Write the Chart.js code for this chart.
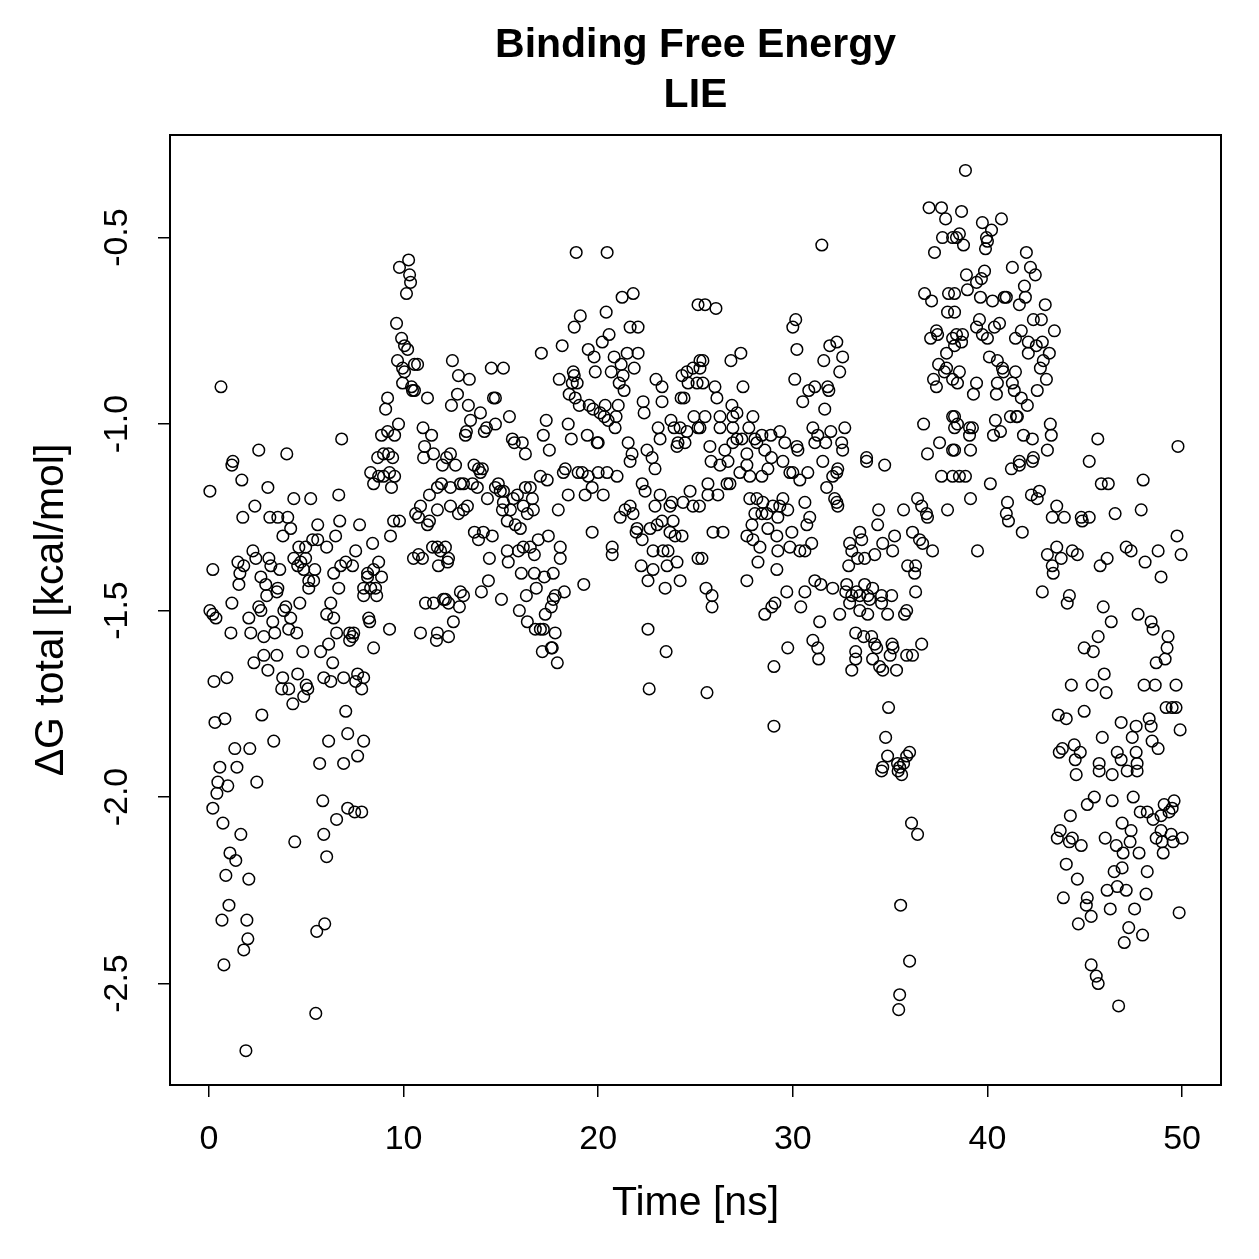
<!DOCTYPE html>
<html><head><meta charset="utf-8">
<script src="https://cdn.jsdelivr.net/npm/chart.js@4/dist/chart.umd.min.js"></script>
<style>html,body{margin:0;padding:0;background:#fff}canvas{display:block}</style>
</head><body>
<canvas id="c" width="1259" height="1259"></canvas>
<script>
const titleLines = ['Binding Free Energy', 'LIE'];
const xLabel = 'Time [ns]';
const yLabel = 'ΔG total [kcal/mol]';
const xTicks = [0, 10, 20, 30, 40, 50];
const yTicks = [-2.5, -2.0, -1.5, -1.0, -0.5];
const yTickLabels = ['-2.5', '-2.0', '-1.5', '-1.0', '-0.5'];

// [time (ns), ΔG (kcal/mol)], split by time window
const seg0to12 = [[0.05,-1.18],[1.69,-1.15],[3.03,-1.17],[4.36,-1.20],[5.23,-1.20],[6.67,-1.19],[2.36,-1.22],[1.74,-1.25],[3.13,-1.25],[3.54,-1.25],[4.05,-1.25],[4.2,-1.28],[3.8,-1.30],[5.59,-1.27],[6.72,-1.26],[7.74,-1.27],[6.51,-1.30],[8.41,-1.32],[9.33,-1.30],[9.49,-1.26],[9.79,-1.26],[5.59,-1.31],[5.33,-1.31],[4.97,-1.33],[4.62,-1.33],[6.05,-1.33],[7.54,-1.34],[2.26,-1.34],[1.49,-1.37],[1.79,-1.38],[1.59,-1.40],[2.41,-1.36],[3.08,-1.36],[3.18,-1.38],[3.64,-1.39],[0.2,-1.39],
[4.36,-1.36],[4.72,-1.37],[4.97,-1.36],[4.56,-1.38],[4.87,-1.39],[5.44,-1.39],[5.13,-1.42],[5.38,-1.42],[5.13,-1.44],[1.54,-1.43],[2.67,-1.41],[2.92,-1.43],[2.97,-1.46],[3.54,-1.44],[3.49,-1.45],
[6.41,-1.40],[6.77,-1.38],[7.03,-1.37],[7.38,-1.38],[6.67,-1.44],
[8.72,-1.37],[8.15,-1.40],[8.46,-1.39],[8.87,-1.41],[8.15,-1.41],[7.95,-1.44],[8.31,-1.44],[8.56,-1.44],[7.95,-1.46],[8.62,-1.46],
[1.18,-1.48],[0.05,-1.50],[0.2,-1.51],[0.36,-1.52],[2.56,-1.49],[2.67,-1.50],[3.95,-1.49],[3.85,-1.50],[4.2,-1.52],[4.67,-1.48],[2.05,-1.52],[3.28,-1.53],
[6.26,-1.48],[6.05,-1.51],[6.41,-1.52],[8.21,-1.52],[8.26,-1.53],
[1.13,-1.56],[2.15,-1.56],[2.82,-1.57],[3.38,-1.56],[4.1,-1.55],[4.51,-1.56],[6.56,-1.56],[6.15,-1.59],[7.23,-1.56],[7.38,-1.57],[7.44,-1.56],[7.23,-1.58],[9.28,-1.55],[8.46,-1.60],
[4.82,-1.61],[5.74,-1.61],[6.36,-1.64],[2.82,-1.62],[3.49,-1.62],[2.31,-1.64],[3.03,-1.66],
[0.26,-1.69],[0.92,-1.68],[3.79,-1.68],[3.74,-1.71],[4.1,-1.71],[4.31,-1.75],[4.56,-1.67],[5.0,-1.70],[5.08,-1.71],[4.87,-1.73],[5.9,-1.68],[6.26,-1.69],[6.92,-1.68],[7.64,-1.67],[7.95,-1.68],[7.54,-1.69],[7.85,-1.71],
[2.72,-1.78],[0.31,-1.80],[0.82,-1.79],[7.03,-1.77],[7.13,-1.83],[6.15,-1.85],[7.95,-1.85],[3.33,-1.85],[1.33,-1.87],[2.1,-1.87],[0.56,-1.92],[1.44,-1.92],[5.69,-1.91],[6.92,-1.91],[7.64,-1.89],
[2.46,-1.96],[0.46,-1.96],[0.97,-1.97],[0.41,-1.99],[0.2,-2.03],[0.72,-2.07],[1.64,-2.10],[5.85,-2.01],[7.13,-2.03],[7.49,-2.04],[7.85,-2.04],[6.56,-2.06],[4.41,-2.12],[5.9,-2.10],[6.05,-2.16],[1.08,-2.15],[1.38,-2.17],[0.87,-2.21],[2.05,-2.22],[1.03,-2.29],[0.67,-2.33],[1.95,-2.33],[2.0,-2.38],[1.79,-2.41],[5.95,-2.34],[5.54,-2.36],[0.77,-2.45],[5.49,-2.58],[1.9,-2.68],
[10.26,-0.56],[9.79,-0.58],[10.31,-0.60],[10.36,-0.62],[10.15,-0.65],[9.64,-0.73],[9.9,-0.77],[10.05,-0.79],[10.21,-0.80],[9.69,-0.83],[9.95,-0.85],[10.05,-0.86],[10.56,-0.84],[10.72,-0.84],[9.95,-0.89],[10.41,-0.90],[10.46,-0.91],[10.56,-0.91],[11.23,-0.93],[0.62,-0.90],[9.18,-0.93],[9.08,-0.96],[9.74,-1.00],[9.18,-1.02],[8.87,-1.03],[9.54,-1.03],[11.0,-1.01],[11.44,-1.03],[11.08,-1.06],[11.54,-1.08],[6.82,-1.04],[2.56,-1.07],[4.0,-1.08],[1.23,-1.10],[1.18,-1.11],[8.67,-1.09],[8.97,-1.08],[9.23,-1.08],[9.44,-1.09],[11.03,-1.09],[12.21,-1.09],
[12.0,-1.11],[8.31,-1.13],[8.72,-1.14],[8.97,-1.14],[9.28,-1.13],[9.54,-1.14],[8.46,-1.16],[9.38,-1.17],
[11.74,-1.17],[11.95,-1.16],[11.33,-1.19],[10.87,-1.22],[10.62,-1.24],[10.77,-1.25],[11.33,-1.26],[11.23,-1.27],[11.74,-1.23],
[10.51,-1.36],[10.77,-1.35],[10.97,-1.36],[11.49,-1.33],[11.74,-1.33],[11.9,-1.34],[11.79,-1.38],[11.13,-1.48],[11.54,-1.48],[12.05,-1.47],[10.87,-1.56],[11.74,-1.56],[11.69,-1.58]];

const seg12to25 = [[18.87,-0.54],[20.46,-0.54],[21.23,-0.66],[21.8,-0.65],[19.08,-0.71],[20.41,-0.70],[18.77,-0.74],[21.64,-0.74],[22.05,-0.74],[20.56,-0.76],[20.21,-0.78],[18.15,-0.79],[17.08,-0.81],[19.49,-0.80],[19.79,-0.82],[20.82,-0.82],[21.49,-0.81],[22.05,-0.81],[21.18,-0.84],[21.85,-0.85],
[18.72,-0.86],[18.77,-0.87],[18.0,-0.88],[18.67,-0.89],[18.92,-0.89],[18.51,-0.92],[18.82,-0.93],[19.03,-0.95],[19.85,-0.86],[20.67,-0.86],[21.28,-0.87],[21.08,-0.89],[21.33,-0.91],[22.97,-0.88],[23.28,-0.90],[23.28,-0.94],
[12.51,-0.83],[12.82,-0.87],[13.38,-0.88],[14.51,-0.85],[15.13,-0.85],[12.77,-0.92],[12.46,-0.95],[13.33,-0.95],[13.95,-0.97],[14.72,-0.93],[14.62,-0.93],[13.44,-0.99],[13.18,-1.03],[13.23,-1.02],[14.26,-1.01],[14.15,-1.02],[14.72,-1.00],[15.44,-0.98],[17.33,-0.99],[17.18,-1.03],[18.46,-1.00],[18.62,-1.04],[15.59,-1.04],[15.69,-1.05],[16.1,-1.05],[17.49,-1.07],[16.26,-1.08],[19.44,-1.03],[19.95,-1.05],[20.0,-1.05],
[19.54,-0.95],[19.74,-0.96],[20.1,-0.97],[20.36,-0.95],[20.31,-0.98],[20.51,-0.99],[20.92,-0.98],[21.03,-0.95],[20.87,-1.01],[22.31,-0.94],[22.36,-0.97],[21.54,-1.05],[21.74,-1.08],[22.51,-1.07],[22.77,-1.09],
[23.08,-1.01],[23.18,-1.04],[23.74,-0.99],[23.9,-1.01],[24.21,-1.01],[24.56,-1.02],[24.1,-1.05],[24.05,-1.06],[24.46,-1.05],[24.92,-0.98],[25.13,-1.01],[25.13,-0.68],[25.23,-0.83],[24.56,-0.86],[24.31,-0.87],[24.87,-0.85],[24.62,-0.89],[25.08,-0.89],[24.26,-0.93],[24.41,-0.93],[12.41,-1.08],
[12.67,-1.11],[13.62,-1.11],[13.85,-1.12],[14.05,-1.12],[13.95,-1.13],[12.41,-1.17],[12.92,-1.16],[13.08,-1.16],[13.54,-1.16],[13.79,-1.17],[12.41,-1.22],[12.82,-1.24],[13.08,-1.23],[13.28,-1.22],[14.31,-1.20],[14.72,-1.17],[14.97,-1.18],[15.13,-1.18],[14.87,-1.16],[15.13,-1.21],[15.08,-1.23],[15.49,-1.23],[15.64,-1.20],[15.85,-1.19],[16.26,-1.17],[16.51,-1.17],[16.62,-1.20],[16.67,-1.23],[16.36,-1.24],[15.33,-1.26],[15.74,-1.27],[16.0,-1.28],[16.15,-1.22],[13.64,-1.29],[14.1,-1.29],[13.85,-1.31],[14.56,-1.30],[12.15,-1.33],[12.31,-1.36],[12.26,-1.37],[14.41,-1.36],[15.33,-1.34],[15.38,-1.37],[15.9,-1.34],[16.15,-1.33],[16.51,-1.33],[16.72,-1.35],[16.92,-1.31],[17.44,-1.30],[18.05,-1.33],[18.05,-1.36],
[17.03,-1.14],[17.38,-1.15],[17.95,-1.23],[18.21,-1.13],[18.46,-1.19],[18.31,-1.12],[18.97,-1.13],[19.18,-1.13],[19.33,-1.19],[19.49,-1.14],[19.69,-1.17],[20.0,-1.13],[20.26,-1.19],[20.46,-1.13],[20.97,-1.14],[19.69,-1.29],[20.72,-1.33],[20.72,-1.35],[21.64,-1.10],[22.92,-1.12],
[22.26,-1.16],[22.41,-1.18],[23.18,-1.19],[22.92,-1.22],[23.79,-1.21],[23.69,-1.22],[24.36,-1.21],[24.87,-1.22],[24.72,-1.18],
[21.13,-1.25],[21.38,-1.23],[21.64,-1.22],[21.79,-1.24],[22.0,-1.28],[21.95,-1.29],[22.26,-1.31],[22.67,-1.28],[23.03,-1.27],[23.28,-1.26],[23.85,-1.26],[23.69,-1.29],[23.95,-1.30],[24.31,-1.30],[22.82,-1.34],[23.33,-1.34],[23.59,-1.34],[22.21,-1.38],[22.82,-1.39],[23.54,-1.38],[24.05,-1.37],[22.56,-1.42],[23.44,-1.44],[24.21,-1.42],[25.13,-1.36],[22.56,-1.55],[23.49,-1.61],[22.62,-1.71],
[12.15,-1.47],[12.31,-1.48],[12.92,-1.45],[13.08,-1.46],[12.87,-1.49],[12.56,-1.53],[12.31,-1.57],[14.0,-1.45],[14.36,-1.42],[15.03,-1.47],[16.05,-1.40],[16.72,-1.40],[16.82,-1.44],[17.23,-1.41],[17.69,-1.40],[16.31,-1.46],[15.95,-1.50],[16.36,-1.53],[17.79,-1.46],[18.26,-1.45],[17.69,-1.47],[17.59,-1.49],[17.28,-1.51],[16.77,-1.55],[17.03,-1.55],[17.18,-1.55],[17.79,-1.56],[17.13,-1.61],[17.59,-1.60],[17.64,-1.60],[17.9,-1.64],[19.26,-1.43]];

const seg25to38 = [[31.49,-0.52],[37.0,-0.42],[37.64,-0.42],[37.85,-0.45],[37.69,-0.50],[38.21,-0.50],[37.28,-0.54],[25.49,-0.68],[26.05,-0.69],[30.15,-0.72],[30.0,-0.74],[25.38,-0.83],[25.23,-0.85],[27.33,-0.81],[26.82,-0.83],[30.21,-0.80],[30.1,-0.88],[32.26,-0.78],[31.9,-0.79],[31.59,-0.83],[32.56,-0.82],[32.41,-0.86],
[25.38,-0.89],[26.0,-0.90],[26.1,-0.93],[27.44,-0.90],[26.87,-0.95],[27.13,-0.97],[25.49,-0.98],[25.23,-1.01],[26.26,-0.98],[26.26,-1.01],[26.92,-1.01],[26.92,-0.98],[27.95,-0.98],[27.74,-1.01],[27.13,-1.04],[27.38,-1.04],[26.92,-1.05],[28.05,-1.04],[28.41,-1.03],[28.15,-1.05],[28.87,-1.03],[29.33,-1.02],[25.74,-1.06],[26.51,-1.07],[27.64,-1.08],[28.56,-1.07],[29.59,-1.05],[30.21,-1.06],[30.26,-1.07],[25.8,-1.10],[28.9,-1.09],
[30.51,-0.94],[30.82,-0.91],[31.13,-0.90],[31.79,-0.90],[31.85,-0.91],[31.64,-0.96],[31.03,-1.01],[31.28,-1.03],[31.13,-1.05],[31.69,-1.05],[31.95,-1.02],[32.67,-1.01],[32.51,-1.05],[32.56,-1.07],[33.79,-1.09],
[36.77,-0.65],[37.13,-0.67],[38.0,-0.65],[37.95,-0.70],[37.38,-0.75],[37.08,-0.77],[37.44,-0.76],[38.21,-0.77],[37.9,-0.81],[37.49,-0.84],[37.79,-0.86],[37.9,-0.85],[37.23,-0.88],[37.38,-0.90],[38.21,-0.88],[36.72,-1.00],[37.54,-1.05],[36.92,-1.08],[38.21,-0.98],[38.31,-1.01],[38.21,-1.07],
[26.26,-1.11],[26.67,-1.10],[27.28,-1.13],[27.79,-1.14],[27.64,-1.11],[28.41,-1.14],[28.72,-1.12],[29.49,-1.10],[30.0,-1.13],[30.36,-1.15],[30.77,-1.13],[29.85,-1.13],[31.54,-1.10],[31.74,-1.17],[32.05,-1.14],[32.26,-1.13],[32.31,-1.12],[33.79,-1.10],[34.72,-1.11],[37.64,-1.14],[38.21,-1.14],
[25.64,-1.16],[26.62,-1.16],[26.77,-1.16],[25.64,-1.19],[26.15,-1.19],[25.2,-1.22],
[27.79,-1.20],[28.15,-1.20],[28.46,-1.21],[28.05,-1.24],[28.41,-1.24],[28.67,-1.24],[28.97,-1.22],[29.33,-1.22],[29.49,-1.20],[29.74,-1.23],[29.23,-1.25],[27.9,-1.27],[28.72,-1.28],[29.18,-1.30],[27.64,-1.30],[27.95,-1.31],[28.31,-1.33],[29.23,-1.34],[29.85,-1.33],[29.95,-1.29],[30.36,-1.34],[30.62,-1.34],[30.72,-1.27],[30.87,-1.25],[30.62,-1.21],[30.97,-1.32],[32.15,-1.20],[32.26,-1.21],[32.31,-1.22],[25.9,-1.29],[26.41,-1.29],[25.33,-1.36],[28.21,-1.37],[29.18,-1.39],[27.64,-1.42],[25.54,-1.44],[25.85,-1.46],[25.85,-1.49],[29.69,-1.45],[29.08,-1.48],[28.92,-1.49],[28.56,-1.51],[30.62,-1.45],[30.41,-1.49],
[31.13,-1.42],[31.44,-1.43],[32.05,-1.44],[32.77,-1.43],[32.72,-1.45],[33.03,-1.46],[33.28,-1.45],[33.69,-1.43],[33.44,-1.46],[33.85,-1.46],[34.1,-1.44],[34.56,-1.46],[35.08,-1.46],[34.56,-1.48],[33.95,-1.47],[33.44,-1.50],[33.85,-1.51],[32.92,-1.48],[32.41,-1.51],[31.38,-1.53],[34.87,-1.51],[35.74,-1.51],[35.85,-1.50],[36.31,-1.45],
[32.92,-1.32],[33.44,-1.29],[33.54,-1.31],[33.03,-1.34],[33.33,-1.36],[33.69,-1.36],[32.87,-1.38],[34.21,-1.35],[34.62,-1.32],[35.13,-1.34],[35.23,-1.30],[34.41,-1.23],[34.36,-1.27],[35.69,-1.23],[36.41,-1.20],[36.62,-1.22],[36.87,-1.24],[36.92,-1.25],[37.95,-1.23],[36.15,-1.29],[36.51,-1.31],[36.67,-1.32],[37.18,-1.34],[35.9,-1.38],[36.31,-1.38],[36.26,-1.40],
[25.59,-1.72],[29.03,-1.65],[29.74,-1.60],[31.03,-1.58],[31.28,-1.60],[31.33,-1.63],
[33.23,-1.56],[33.64,-1.57],[34.05,-1.57],[34.21,-1.59],[34.31,-1.60],[33.23,-1.61],[33.23,-1.63],[33.03,-1.66],[34.1,-1.63],[34.46,-1.65],[34.62,-1.66],[35.33,-1.66],[35.1,-1.59],[35.15,-1.60],[35.0,-1.62],[35.85,-1.62],[36.15,-1.62],[36.62,-1.59],
[29.03,-1.81],[34.92,-1.76],[34.77,-1.84],[34.87,-1.89],[36.0,-1.88],[35.85,-1.89],[35.38,-1.91],[35.69,-1.91],[34.62,-1.92],[35.49,-1.92],[34.56,-1.93],[35.59,-1.94],[35.41,-1.93],[36.1,-2.07],[36.41,-2.10],[35.54,-2.29],[36.0,-2.44],[35.49,-2.53],[35.44,-2.57]];

const seg38to50 = [[38.87,-0.32],[38.67,-0.43],[39.74,-0.46],[40.72,-0.45],[38.56,-0.49],[38.41,-0.50],[38.77,-0.52],[40.21,-0.48],[39.95,-0.50],[40.0,-0.51],[39.9,-0.53],[42.0,-0.54],[41.28,-0.58],[42.21,-0.58],[42.46,-0.60],[41.9,-0.63],[41.95,-0.66],[41.64,-0.68],[42.97,-0.68],
[38.92,-0.60],[38.97,-0.64],[39.44,-0.62],[39.69,-0.61],[39.85,-0.59],[39.64,-0.66],[40.26,-0.67],[40.87,-0.66],[40.97,-0.66],
[38.31,-0.65],[38.31,-0.70],[39.59,-0.72],[39.44,-0.74],[40.36,-0.74],[40.62,-0.73],[38.41,-0.76],[38.72,-0.76],[38.67,-0.78],[38.31,-0.79],
[39.74,-0.76],[40.0,-0.77],[41.44,-0.77],[41.74,-0.75],[42.1,-0.78],[42.51,-0.79],[42.82,-0.78],[42.1,-0.81],[43.18,-0.81],[42.36,-0.72],[42.77,-0.72],[43.44,-0.75],
[40.1,-0.82],[40.51,-0.83],[40.77,-0.85],[40.82,-0.86],[41.44,-0.86],[40.51,-0.89],[41.28,-0.89],[41.38,-0.91],[42.87,-0.83],[42.72,-0.85],[43.03,-0.88],[42.56,-0.91],[41.74,-0.93],[42.05,-0.95],
[38.56,-0.86],[38.46,-0.89],[39.44,-0.89],[39.28,-0.92],[40.46,-0.92],
[38.31,-0.98],[38.46,-1.00],[39.08,-1.01],[39.23,-1.01],[39.08,-1.03],[38.31,-1.07],[39.13,-1.07],
[40.41,-0.99],[40.31,-1.03],[40.67,-1.02],[41.18,-0.98],[41.49,-0.98],[41.54,-0.98],[43.23,-1.00],[43.28,-1.03],[43.08,-1.07],[41.85,-1.03],[42.31,-1.04],[41.64,-1.10],[42.36,-1.09],[45.67,-1.04],[49.79,-1.06],[45.23,-1.10],
[41.23,-1.12],[41.64,-1.11],[42.31,-1.10],[38.56,-1.14],[38.87,-1.14],[40.15,-1.16],[39.13,-1.20],[41.03,-1.21],[40.97,-1.24],[41.08,-1.26],[41.79,-1.29],[42.26,-1.19],[42.67,-1.18],[42.56,-1.20],
[43.56,-1.22],[43.33,-1.25],[43.95,-1.25],[44.82,-1.25],[44.87,-1.26],[45.23,-1.25],[45.85,-1.16],[46.21,-1.16],[46.56,-1.24],[47.9,-1.23],[48.0,-1.15],
[39.49,-1.34],[43.08,-1.35],[43.56,-1.33],[43.79,-1.36],[43.33,-1.38],[43.38,-1.40],[44.36,-1.34],[44.62,-1.35],[45.79,-1.38],[46.15,-1.36],[47.13,-1.33],[47.38,-1.34],[48.1,-1.37],[48.77,-1.34],[48.92,-1.41],[49.74,-1.30],[49.95,-1.35],
[42.82,-1.45],[44.21,-1.46],[44.1,-1.48],[45.95,-1.49],[46.36,-1.53],[45.69,-1.57],[44.97,-1.60],[45.44,-1.61],[47.74,-1.51],[48.41,-1.53],[48.51,-1.55],[49.28,-1.57],[49.23,-1.60],[49.13,-1.63],[48.67,-1.64],
[44.31,-1.70],[45.38,-1.70],[46.0,-1.67],[46.1,-1.72],[48.05,-1.70],[48.62,-1.70],[49.69,-1.70],
[43.64,-1.78],[44.05,-1.79],[44.97,-1.77],[46.87,-1.80],[47.64,-1.81],[48.31,-1.79],[48.41,-1.81],[47.44,-1.84],[45.9,-1.84],[48.46,-1.85],[48.77,-1.87],[49.18,-1.76],[49.49,-1.76],[49.69,-1.76],[49.9,-1.82],[47.64,-1.88],[46.67,-1.88],[46.87,-1.90],[45.74,-1.91],[47.69,-1.91],[43.69,-1.88],[43.85,-1.87],[44.46,-1.86],[44.77,-1.88],[44.51,-1.90],
[44.56,-1.94],[46.41,-1.94],[47.18,-1.93],[45.74,-1.93],[47.69,-1.93],[45.49,-2.00],[45.13,-2.02],[46.41,-2.01],[47.49,-2.00],[44.26,-2.05],
[47.85,-2.04],[48.21,-2.04],[48.51,-2.06],[49.08,-2.02],[49.59,-2.01],[49.49,-2.03],[49.33,-2.04],[48.92,-2.05],
[43.74,-2.09],[43.59,-2.11],[44.21,-2.12],[44.36,-2.11],[44.82,-2.13],[46.05,-2.11],[46.62,-2.13],[46.92,-2.07],[47.38,-2.09],[47.33,-2.12],[46.97,-2.15],[47.79,-2.15],[48.67,-2.11],[48.92,-2.09],[49.44,-2.10],[48.97,-2.12],[49.54,-2.12],[50.0,-2.11],[49.03,-2.15],
[44.05,-2.18],[44.62,-2.22],[43.9,-2.27],[45.13,-2.27],[45.08,-2.29],[45.33,-2.32],[44.67,-2.34],[46.51,-2.20],[46.92,-2.19],[46.15,-2.25],[46.67,-2.24],[47.13,-2.25],[48.21,-2.20],[48.15,-2.26],[46.31,-2.30],[47.56,-2.30],[47.26,-2.35],[47.97,-2.37],[47.03,-2.39],[49.85,-2.31],
[45.33,-2.45],[45.59,-2.48],[45.69,-2.50],[46.74,-2.56]];

const allPoints = [].concat(seg0to12, seg12to25, seg25to38, seg38to50).map(p => ({x: p[0], y: p[1]}));

const FONT = "'Liberation Sans', Arial, Helvetica, sans-serif";

const rStylePlugin = {
  id: 'rstyle',
  afterDraw(chart) {
    const {ctx, chartArea: a} = chart;
    ctx.save();
    // plot box
    ctx.strokeStyle = '#000';
    ctx.lineWidth = 2;
    ctx.strokeRect(a.left, a.top, a.right - a.left, a.bottom - a.top);
    ctx.fillStyle = '#000';
    // title, centred over the plot region
    ctx.font = 'bold 41px ' + FONT;
    ctx.textAlign = 'center';
    ctx.textBaseline = 'middle';
    const cx = (a.left + a.right) / 2;
    titleLines.forEach((t, i) => ctx.fillText(t, cx, 46 + i * 50));
    // rotated y tick labels (R style, parallel to axis)
    const ys = chart.scales.y;
    ctx.font = '34px ' + FONT;
    yTicks.forEach((v, i) => {
      const py = ys.getPixelForValue(v);
      ctx.save();
      ctx.translate(a.left - 52, py);
      ctx.rotate(-Math.PI / 2);
      ctx.fillText(yTickLabels[i], 0, 0);
      ctx.restore();
    });
    ctx.restore();
  }
};

new Chart(document.getElementById('c'), {
  type: 'scatter',
  data: {
    datasets: [{
      data: allPoints,
      pointStyle: 'circle',
      pointRadius: 5.8,
      pointHoverRadius: 5.8,
      borderWidth: 1.5,
      borderColor: '#000',
      backgroundColor: 'rgba(0,0,0,0)'
    }]
  },
  options: {
    responsive: false,
    animation: false,
    devicePixelRatio: 1,
    layout: {padding: {top: 135, right: 38, bottom: 0, left: 0}},
    plugins: {
      legend: {display: false},
      tooltip: {enabled: false},
      title: {display: false}
    },
    scales: {
      x: {
        type: 'linear',
        min: -2, max: 52,
        afterBuildTicks: s => { s.ticks = xTicks.map(v => ({value: v})); },
        afterFit: s => { s.height = 174; },
        border: {display: false},
        grid: {display: true, drawOnChartArea: false, drawTicks: true, tickLength: 12, color: '#000', lineWidth: 1.5},
        ticks: {color: '#000', font: {family: FONT, size: 34}, padding: 22, maxRotation: 0, minRotation: 0},
        title: {display: true, text: xLabel, color: '#000', font: {family: FONT, size: 41}, padding: {top: 0, bottom: 31}}
      },
      y: {
        type: 'linear',
        min: -2.772, max: -0.225,
        afterBuildTicks: s => { s.ticks = yTicks.map(v => ({value: v})); },
        afterFit: s => { s.width = 170; },
        border: {display: false},
        grid: {display: true, drawOnChartArea: false, drawTicks: true, tickLength: 12, color: '#000', lineWidth: 1.5},
        ticks: {display: false},
        title: {display: true, text: yLabel, color: '#000', font: {family: FONT, size: 41}, padding: {top: 27, bottom: 0}}
      }
    }
  },
  plugins: [rStylePlugin]
});
</script>
</body></html>
